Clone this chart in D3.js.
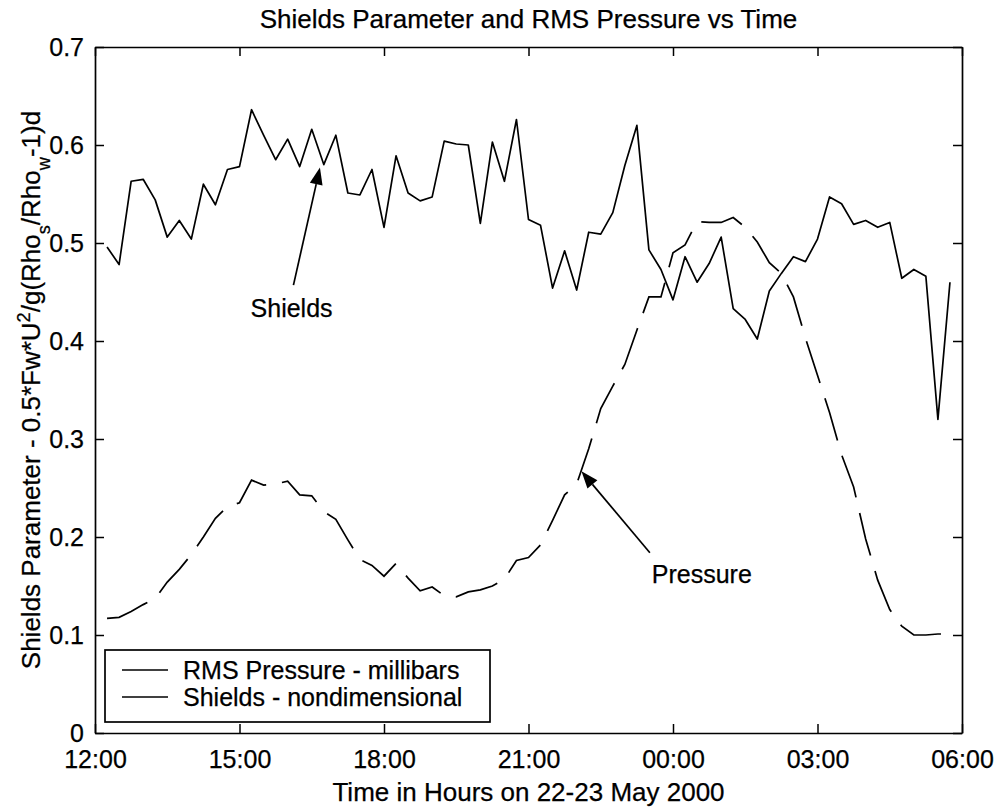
<!DOCTYPE html>
<html>
<head>
<meta charset="utf-8">
<script src="https://cdn.jsdelivr.net/npm/d3@7"></script>
<style>
  html, body { margin: 0; padding: 0; background: #fff; }
  svg { display: block; }
  text { font-family: "Liberation Sans", Arial, Helvetica, sans-serif; fill: #000; stroke: #000; stroke-width: 0.25px; }
</style>
</head>
<body>
<svg id="chart" width="998" height="807"></svg>
<script>
// ---- data ----
const times = ["12:15","12:30","12:45","13:00","13:15","13:30","13:45","14:00","14:15","14:30",
  "14:45","15:00","15:15","15:30","15:45","16:00","16:15","16:30","16:45","17:00",
  "17:15","17:30","17:45","18:00","18:15","18:30","18:45","19:00","19:15","19:30",
  "19:45","20:00","20:15","20:30","20:45","21:00","21:15","21:30","21:45","22:00",
  "22:15","22:30","22:45","23:00","23:15","23:30","23:45","00:00","00:15","00:30",
  "00:45","01:00","01:15","01:30","01:45","02:00","02:15","02:30","02:45","03:00",
  "03:15","03:30","03:45","04:00","04:15","04:30","04:45","05:00","05:15","05:30","05:45"];

const shields = [0.496,0.478,0.563,0.565,0.544,0.506,0.523,0.504,0.560,0.539,
  0.575,0.578,0.636,0.610,0.585,0.606,0.578,0.616,0.580,0.610,
  0.551,0.549,0.575,0.516,0.589,0.551,0.543,0.547,0.604,0.601,
  0.600,0.520,0.603,0.563,0.626,0.524,0.518,0.454,0.492,0.452,
  0.511,0.509,0.531,0.579,0.620,0.493,0.473,0.442,0.486,0.460,
  0.479,0.506,0.433,0.422,0.402,0.451,0.469,0.486,0.481,0.504,
  0.547,0.540,0.519,0.523,0.516,0.521,0.464,0.473,0.466,0.320,0.460];

const pressure = [0.117,0.118,0.124,0.131,0.137,0.154,0.167,0.182,0.200,0.219,
  0.231,0.235,0.258,0.253,0.254,0.257,0.243,0.242,0.226,0.218,
  0.197,0.177,0.171,0.160,0.173,0.158,0.145,0.149,0.140,0.139,
  0.144,0.146,0.150,0.157,0.176,0.179,0.192,0.217,0.243,0.254,
  0.290,0.331,0.354,0.376,0.411,0.445,0.445,0.490,0.498,0.522,
  0.521,0.521,0.526,0.516,0.501,0.480,0.469,0.445,0.403,0.365,
  0.327,0.284,0.251,0.198,0.156,0.126,0.109,0.100,0.100,0.101,0.101];

const xTickLabels = ["12:00","15:00","18:00","21:00","00:00","03:00","06:00"];
const yTickValues = [0,0.1,0.2,0.3,0.4,0.5,0.6,0.7];
const legendLabels = ["RMS Pressure - millibars","Shields - nondimensional"];
const titleText = "Shields Parameter and RMS Pressure vs Time";
const xLabelText = "Time in Hours on 22-23 May 2000";

// annotations in data units: [hours after 12:00, value]
const shieldsNote = {text: "Shields", tip: [4.67, 0.577], tail: [4.12, 0.457], label: [3.23, 0.425]};
const pressureNote = {text: "Pressure", tip: [10.10, 0.267], tail: [11.52, 0.184], label: [11.56, 0.153]};

(function () {
function hoursAfterNoon(s) {
  const [h, m] = s.split(":").map(Number);
  const hh = h < 12 ? h + 24 : h;
  return hh - 12 + m / 60;
}

const mL = 95, mR = 962, mT = 47, mB = 733;
const FS = 25;

const svg = d3.select("#chart");
const x = d3.scaleLinear().domain([0, 18]).range([mL, mR]);
const y = d3.scaleLinear().domain([0, 0.7]).range([mB, mT]);

const tVals = times.map(hoursAfterNoon);
const g = svg.append("g");

const xAxis = d3.axisBottom(x)
  .tickValues(xTickLabels.map((_, i) => i * 3))
  .tickFormat((d, i) => xTickLabels[i])
  .tickSizeInner(-9).tickSizeOuter(0).tickPadding(17);
const gx = g.append("g").attr("transform", `translate(0,${mB})`).call(xAxis);

const xAxisTop = d3.axisTop(x)
  .tickValues(xTickLabels.map((_, i) => i * 3))
  .tickFormat("").tickSizeInner(-9).tickSizeOuter(0);
const gxt = g.append("g").attr("transform", `translate(0,${mT})`).call(xAxisTop);

const yAxis = d3.axisLeft(y)
  .tickValues(yTickValues)
  .tickFormat(d => d === 0 ? "0" : d3.format(".1f")(d))
  .tickSizeInner(-9).tickSizeOuter(0).tickPadding(11);
const gy = g.append("g").attr("transform", `translate(${mL},0)`).call(yAxis);

const yAxisR = d3.axisRight(y)
  .tickValues(yTickValues).tickFormat("")
  .tickSizeInner(-9).tickSizeOuter(0);
const gyr = g.append("g").attr("transform", `translate(${mR},0)`).call(yAxisR);

[gx, gxt, gy, gyr].forEach(a => {
  a.selectAll("path.domain").attr("stroke", "#000").attr("stroke-width", 1.7);
  a.selectAll(".tick line").attr("stroke", "#000").attr("stroke-width", 1.5);
  a.selectAll(".tick text").attr("font-size", FS).attr("fill", "#000")
    .style("font-family", '"Liberation Sans", Arial, sans-serif');
});
gx.selectAll(".tick text").attr("dy", "0.71em");

const line = d3.line().x((d, i) => x(tVals[i])).y(d => y(d));

svg.append("path").datum(shields)
  .attr("d", line).attr("fill", "none")
  .attr("stroke", "#000").attr("stroke-width", 1.7).attr("stroke-linejoin", "round");

svg.append("path").datum(pressure)
  .attr("d", line).attr("fill", "none")
  .attr("stroke", "#000").attr("stroke-width", 1.7)
  .attr("stroke-dasharray", "44,16");

function arrow(note) {
  const tx = x(note.tip[0]), ty = y(note.tip[1]);
  const sx = x(note.tail[0]), sy = y(note.tail[1]);
  const ang = Math.atan2(ty - sy, tx - sx);
  const len = 17, half = 6.5;
  const bx = tx - len * Math.cos(ang), by = ty - len * Math.sin(ang);
  svg.append("line").attr("x1", sx).attr("y1", sy).attr("x2", bx).attr("y2", by)
    .attr("stroke", "#000").attr("stroke-width", 1.7);
  const p1 = [bx + half * Math.sin(ang), by - half * Math.cos(ang)];
  const p2 = [bx - half * Math.sin(ang), by + half * Math.cos(ang)];
  svg.append("path").attr("d", `M${tx},${ty}L${p1[0]},${p1[1]}L${p2[0]},${p2[1]}Z`)
    .attr("fill", "#000");
  svg.append("text").attr("x", x(note.label[0])).attr("y", y(note.label[1]))
    .attr("font-size", FS).text(note.text);
}
arrow(shieldsNote);
arrow(pressureNote);

const lg = svg.append("g");
lg.append("rect").attr("x", 105).attr("y", 650).attr("width", 385).attr("height", 72)
  .attr("fill", "#fff").attr("stroke", "#000").attr("stroke-width", 1.7);
legendLabels.forEach((lab, i) => {
  const yy = 670 + i * 27;
  lg.append("line").attr("x1", 122).attr("x2", 168).attr("y1", yy).attr("y2", yy)
    .attr("stroke", "#000").attr("stroke-width", 1.7);
  lg.append("text").attr("x", 183).attr("y", yy + 9).attr("font-size", FS).text(lab);
});

svg.append("text").attr("x", (mL + mR) / 2).attr("y", 28)
  .attr("text-anchor", "middle").attr("font-size", 26).text(titleText);

svg.append("text").attr("x", (mL + mR) / 2).attr("y", 801)
  .attr("text-anchor", "middle").attr("font-size", 26).text(xLabelText);

const YFS = 26;
const yl = svg.append("text")
  .attr("transform", `translate(40,${(mT + mB) / 2}) rotate(-90)`)
  .attr("text-anchor", "middle").attr("font-size", YFS);
yl.append("tspan").text("Shields Parameter - 0.5*Fw*U");
yl.append("tspan").attr("baseline-shift", "super").attr("font-size", YFS * 0.7).text("2");
yl.append("tspan").text("/g(Rho");
yl.append("tspan").attr("baseline-shift", "sub").attr("font-size", YFS * 0.7).text("s");
yl.append("tspan").text("/Rho");
yl.append("tspan").attr("baseline-shift", "sub").attr("font-size", YFS * 0.7).text("w");
yl.append("tspan").text("-1)d");
})();
</script>
</body>
</html>
